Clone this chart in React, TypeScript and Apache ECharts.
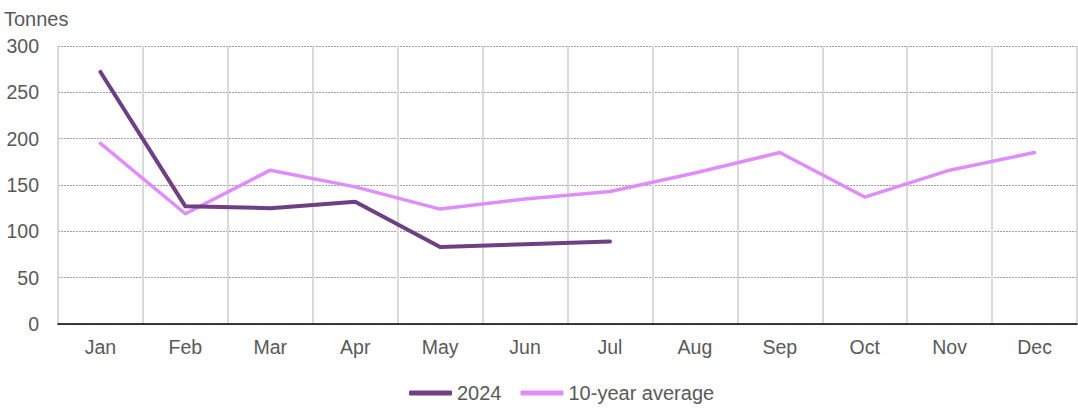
import React, { useEffect, useRef } from "react";
import * as echarts from "echarts";

const months = ["Jan", "Feb", "Mar", "Apr", "May", "Jun", "Jul", "Aug", "Sep", "Oct", "Nov", "Dec"];
const values2024 = [272, 127, 125, 132, 83, 86, 89];
const tenYearAvg = [195, 119, 166, 148, 124, 135, 143, 163, 185, 137, 166, 185];
const yTicks = { min: 0, max: 300, interval: 50 };

export default function App() {
  const ref = useRef<HTMLDivElement>(null);
  useEffect(() => {
    if (!ref.current) return;
    const chart = echarts.init(ref.current, undefined, { renderer: "svg" });
    const textColor = "#595959";
    const font = "'Liberation Sans', Arial, sans-serif";
    chart.setOption({
      animation: false,
      textStyle: { fontFamily: font, color: textColor },
      grid: { left: 58, right: 1, top: 46, bottom: 90, containLabel: false },
      title: {
        text: "Tonnes",
        left: -1,
        top: 4,
        textStyle: { fontSize: 20, fontWeight: "normal", color: textColor, fontFamily: font },
      },
      legend: {
        top: 378,
        left: 404,
        itemWidth: 43,
        itemHeight: 5,
        itemGap: 19,
        textStyle: { fontSize: 20, color: textColor, fontFamily: font },
        data: [
          { name: "2024", icon: "roundRect" },
          { name: "10-year average", icon: "roundRect" },
        ],
      },
      xAxis: {
        type: "category",
        data: months,
        boundaryGap: true,
        axisLine: { lineStyle: { color: "#000", width: 1.5 } },
        axisTick: { show: false },
        axisLabel: { fontSize: 19.5, color: textColor, margin: 13, fontFamily: font },
        splitLine: { show: true, lineStyle: { color: "#d9d9d9", width: 2 } },
      },
      yAxis: {
        type: "value",
        min: yTicks.min,
        max: yTicks.max,
        interval: yTicks.interval,
        axisLine: { show: false },
        axisTick: { show: false },
        axisLabel: { fontSize: 19.5, color: textColor, margin: 19, fontFamily: font },
        splitLine: { show: true, lineStyle: { color: "#a0a0a0", width: 1, type: [2, 1] } },
      },
      series: [
        {
          name: "2024",
          type: "line",
          data: values2024,
          showSymbol: false,
          symbol: "none",
          lineStyle: { color: "#6e3f82", width: 4, cap: "round", join: "round" },
          itemStyle: { color: "#6e3f82" },
          z: 3,
        },
        {
          name: "10-year average",
          type: "line",
          data: tenYearAvg,
          showSymbol: false,
          symbol: "none",
          lineStyle: { color: "#e08dfc", width: 3.5, cap: "round", join: "round" },
          itemStyle: { color: "#e08dfc" },
          z: 2,
        },
      ],
    });
    return () => chart.dispose();
  }, []);
  return <div ref={ref} style={{ width: 1078, height: 414, position: "absolute", left: 0, top: 0 }} />;
}
